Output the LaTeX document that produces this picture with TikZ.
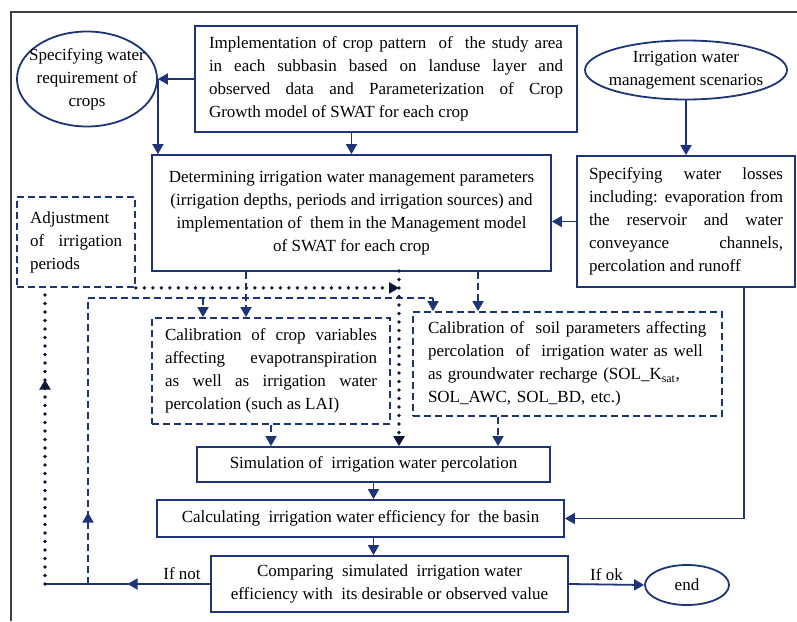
\documentclass[tikz,border=0pt]{standalone}
\usepackage{fontspec}
\setmainfont{Liberation Serif}
\usetikzlibrary{arrows.meta,shapes.geometric,decorations.markings}
\definecolor{navy}{RGB}{31,52,118}
\tikzset{>={Triangle[width=11pt,length=10pt]}}
\tikzset{
  txt/.style={font=\fontsize{17}{23}\selectfont},
  box/.style={txt, draw=navy, line width=1.8pt, rectangle, inner sep=0pt},
  dbox/.style={box, dash pattern=on 7pt off 4pt},
  oval/.style={txt, draw=navy, line width=1.8pt, ellipse, inner sep=0pt, align=center},
  link/.style={draw=navy, line width=1.8pt},
  dlink/.style={link, dash pattern=on 7pt off 4pt},
  plink/.style={draw=navy!45!black, line width=3.8pt, dash pattern=on 0pt off 8.5pt, line cap=round},
  midtip/.style={postaction={decorate}, decoration={markings, mark=at position #1 with {\arrow{>}}}},
}

\begin{document}
\begin{tikzpicture}[x=1pt,y=-1pt]
  \useasboundingbox (0,0) rectangle (797,621);

  \draw[darkgray, line width=1.3pt] (11,621) -- (11,12) -- (797,12); % frame

  %% boxes
  \node[box, minimum width=382pt, minimum height=106pt, text width=354pt, align=justify] (top) at (386,79)
    {Implementation of crop pattern \ of \ the study area\linebreak in each subbasin based on landuse layer and\linebreak observed data and Parameterization of Crop\linebreak Growth model of SWAT for each crop};
  \node[oval, inner xsep=-20pt, minimum width=140pt, minimum height=95pt] (spec) at (87,79)
    {Specifying water\\requirement of\\crops};
  \node[oval, inner xsep=-10pt, minimum width=202pt, minimum height=59pt] (scen) at (686,70)
    {Irrigation water\\management scenarios};
  \node[box, minimum width=399pt, minimum height=116pt, align=center] (det) at (351.5,213)
    {Determining irrigation water management parameters\\(irrigation depths, periods and irrigation sources) and\\implementation of \ them in the Management model\\of SWAT for each crop};
  \node[box, minimum width=218pt, minimum height=131pt, text width=194pt, align=justify] (loss) at (686,221.5)
    {Specifying water losses\linebreak including: evaporation from\linebreak the reservoir and water\linebreak conveyance channels,\linebreak percolation and runoff};
  \node[dbox, minimum width=118pt, minimum height=90pt, text width=92pt, align=justify] (adj) at (76,242)
    {Adjustment\\ of irrigation\linebreak periods};
  \node[dbox, minimum width=238pt, minimum height=106pt, text width=212pt, align=justify] (crop) at (271,371)
    {Calibration of crop variables\linebreak affecting evapotranspiration\linebreak as well as irrigation water\linebreak percolation (such as LAI)};
  \node[dbox, minimum width=309pt, minimum height=104pt, text width=279pt, align=left] (soil) at (567.5,364)
    {Calibration of \ soil parameters affecting\\percolation \ of \ irrigation water as well\\as groundwater recharge (SOL\_K\textsubscript{sat},\\SOL\_AWC, SOL\_BD, etc.)};
  \node[box, minimum width=353pt, minimum height=35pt] (sim) at (373.5,464.5)
    {Simulation of \ irrigation water percolation};
  \node[box, minimum width=407pt, minimum height=37pt] (calc) at (360.5,518.5)
    {Calculating \ irrigation water efficiency for \ the basin};
  \node[box, minimum width=357pt, minimum height=56pt, align=center] (cmp) at (389.5,584)
    {Comparing \ simulated \ irrigation water\\efficiency with \ its desirable or observed value};
  \node[oval, minimum width=84pt, minimum height=40pt] (end) at (687,585) {end};

  \coordinate (fb) at (45,584);  % feedback corner
  \coordinate (dv) at (399,271); % dotted drop
  \coordinate (dl) at (88,298);  % dashed loop
  \coordinate (db) at (203,298);
  \coordinate (dr) at (433,298);

  %% solid links
  \draw[link,->] (top.west) -- (top.west -| spec.east); % top->spec
  \draw[link,->] (spec.east) -- (spec.east |- det.north); % spec->det
  \draw[link,->] (det.north |- top.south) -- (det.north); % top->det
  \draw[link,->] (scen.south) -- (scen.south |- loss.north); % scen->loss
  \draw[link,->] (loss.west) -- (loss.west -| det.east); % loss->det
  \draw[link,->] (sim.south) -- (sim.south |- calc.north); % sim->calc
  \draw[link,->] (sim.south |- calc.south) -- (sim.south |- cmp.north); % calc->cmp
  \draw[link,->] ([xshift=58pt]loss.south) -- ([xshift=58pt]loss.south |- calc.east) -- (calc.east); % loss->calc
  \draw[link,->] (cmp.east) -- node[txt, above]{If ok} (end.west); % cmp->end
  \draw[link, midtip=0.5] (cmp.west) -- node[txt, above, pos=0.17]{If not} (fb); % cmp->back

  %% dotted loop
  \draw[plink, midtip=0.69] (fb) -- (fb |- adj.south);
  \draw[plink,->] (adj.south east) -- (adj.south east -| dv);
  \draw[plink,->] (dv) -- (dv |- sim.north);

  %% dashed links
  \draw[dlink, midtip=0.25] (dl |- fb) -- (dl);
  \draw[dlink] (dl) -- (dr);
  \draw[dlink,->] (dr) -- (dr |- soil.north);
  \draw[dlink,->] (db) -- (db |- crop.north);
  \draw[dlink,->] ([xshift=-105.5pt]det.south) -- ([xshift=-105.5pt]det.south |- crop.north); % det->crop
  \draw[dlink,->] ([xshift=126.5pt]det.south) -- ([xshift=126.5pt]det.south |- soil.north); % det->soil
  \draw[dlink,->] (crop.south) -- (crop.south |- sim.north); % crop->sim
  \draw[dlink,->] ([xshift=-69.5pt]soil.south) -- ([xshift=-69.5pt]soil.south |- sim.north); % soil->sim

\end{tikzpicture}
\end{document}
